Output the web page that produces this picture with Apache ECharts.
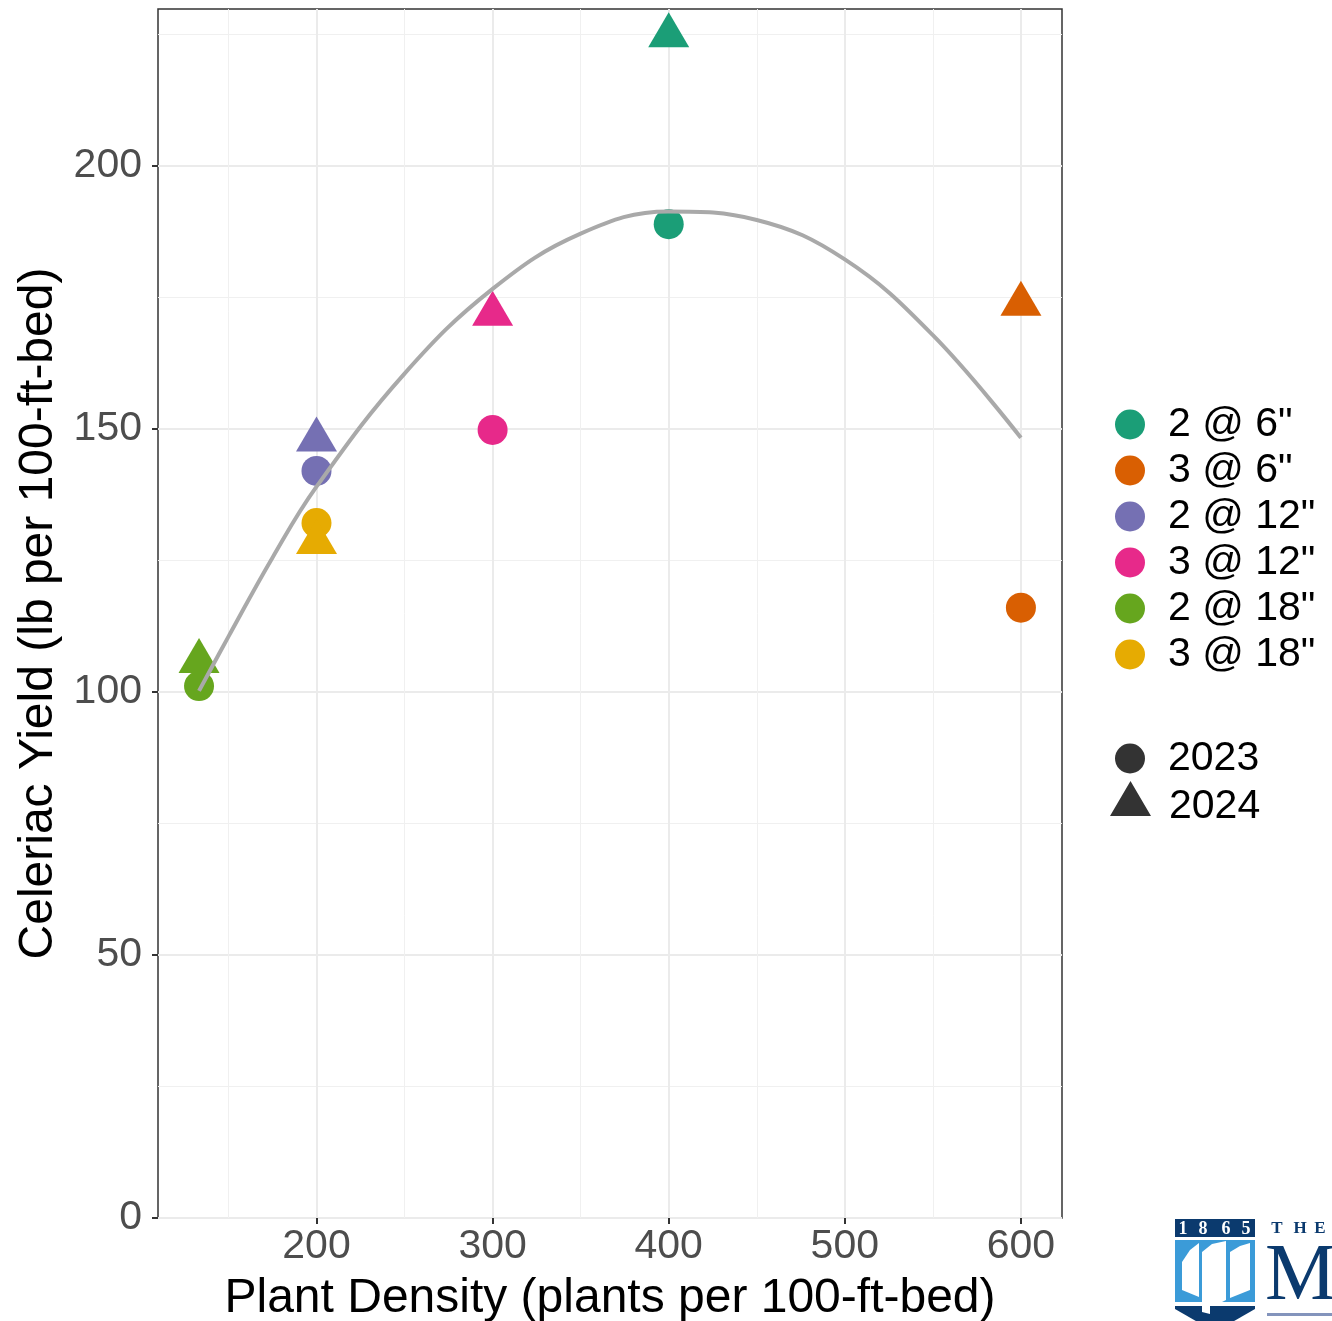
<!DOCTYPE html>
<html>
<head>
<meta charset="utf-8">
<title>Celeriac yield vs plant density</title>
<script src="https://cdn.jsdelivr.net/npm/echarts@6.0.0/dist/echarts.min.js"></script>
<style>
  html, body { margin: 0; padding: 0; background: #fff; }
  #main { width: 1332px; height: 1321px; }
</style>
</head>
<body>
<div id="main"></div>
<script>
// rows @ in-row spacing
var treatments = ['2 @ 6"', '3 @ 6"', '2 @ 12"', '3 @ 12"', '2 @ 18"', '3 @ 18"'];
var colors = ['#1B9E77', '#D95F02', '#7570B3', '#E7298A', '#66A61E', '#E6AB02'];
var density = [400, 600, 200, 300, 133.3, 200];
var yield2023 = [188.9, 116.0, 142.0, 149.8, 101.1, 132.1];
var yield2024 = [224.7, 173.7, 147.9, 171.8, 105.8, 128.4];
var years = ['2023', '2024'];

// fitted curve
var trendX = [133.3, 150, 175, 200, 250, 300, 350, 400, 450, 500, 550, 600];
var trendY = [100.2, 110.5, 125.5, 139.0, 160.5, 176.6, 187.1, 191.3, 189.7, 182.2, 167.8, 148.3];

var xTicks = [200, 300, 400, 500, 600];
var xMinor = [150, 250, 350, 450, 550];
var yTicks = [0, 50, 100, 150, 200];
var yMinor = [25, 75, 125, 175, 225];

var FONT = '"Liberation Sans", Arial, sans-serif';
var NAVY = '#0B3A6E';
// triangle 41x35 with a zero-width tail so it sits above the text centre
var TRI_ICON = 'path://M20.5,0 L41,35 L20.5,35 L20.5,51 L20.5,35 L0,35 Z';

var series = [];
for (var i = 0; i < treatments.length; i++) {
	series.push({
		name: treatments[i],
		type: 'scatter',
		xAxisIndex: 0,
		yAxisIndex: 0,
		z: 2,
		itemStyle: { color: colors[i], opacity: 1 },
		emphasis: { disabled: true },
		data: [
			{ value: [density[i], yield2023[i]], symbol: 'circle', symbolSize: 30 },
			// R's filled triangle is centred on its centroid, not its box
			{ value: [density[i], yield2024[i]], symbol: 'triangle', symbolSize: [41, 35], symbolOffset: [0, -6] }
		]
	});
}
// empty series, only for the shape legend
for (var j = 0; j < years.length; j++) {
	series.push({ name: years[j], type: 'scatter', itemStyle: { color: '#000' }, data: [] });
}
var trend = [];
for (var k = 0; k < trendX.length; k++) {
	trend.push([trendX[k], trendY[k]]);
}
series.push({
	name: 'trend',
	type: 'line',
	z: 3,
	data: trend,
	smooth: 0.4,
	showSymbol: false,
	silent: true,
	lineStyle: { color: '#A9A9A9', width: 4 }
});

var legendText = { fontSize: 41, color: '#000', fontFamily: FONT, lineHeight: 40, padding: [0, 0, 0, 18] };

var option = {
	animation: false,
	backgroundColor: '#fff',
	grid: {
		left: 158, top: 9, right: 270, bottom: 103,
		outerBoundsMode: 'none',
		show: true, borderColor: '#333', borderWidth: 1.5
	},
	xAxis: [{
		type: 'value', min: 110, max: 623.33,
		name: 'Plant Density (plants per 100-ft-bed)',
		nameLocation: 'middle', nameGap: 57,
		nameTextStyle: { fontSize: 48, color: '#000', fontFamily: FONT },
		axisLine: { show: false },
		axisTick: { show: true, length: 6, customValues: xTicks, lineStyle: { color: '#333', width: 2 } },
		axisLabel: { customValues: xTicks, fontSize: 41, color: '#4D4D4D', margin: 8, fontFamily: FONT },
		splitLine: { show: true, lineStyle: { color: '#EBEBEB', width: 2 } }
	}, {
		type: 'value', min: 110, max: 623.33,
		axisLine: { show: false },
		axisTick: { show: false, customValues: xMinor },
		axisLabel: { show: false },
		splitLine: { show: true, lineStyle: { color: '#F0F0F0', width: 1 } }
	}],
	yAxis: [{
		type: 'value', min: 0, max: 229.8,
		name: 'Celeriac Yield (lb per 100-ft-bed)',
		nameLocation: 'middle', nameGap: 83,
		nameTextStyle: { fontSize: 48, color: '#000', fontFamily: FONT },
		axisLine: { show: false },
		axisTick: { show: true, length: 6, customValues: yTicks, lineStyle: { color: '#333', width: 2 } },
		axisLabel: { customValues: yTicks, fontSize: 41, color: '#4D4D4D', margin: 16, fontFamily: FONT },
		splitLine: { show: true, lineStyle: { color: '#EBEBEB', width: 2 } }
	}, {
		type: 'value', min: 0, max: 229.8, position: 'left',
		axisLine: { show: false },
		axisTick: { show: false, customValues: yMinor },
		axisLabel: { show: false },
		splitLine: { show: true, lineStyle: { color: '#F0F0F0', width: 1 } }
	}],
	legend: [{
		data: treatments,
		orient: 'vertical', left: 1115, top: 404, padding: 0,
		itemWidth: 30, itemHeight: 30, itemGap: 5,
		icon: 'circle', selectedMode: false,
		textStyle: legendText
	}, {
		data: ['2023'],
		orient: 'vertical', left: 1115, top: 738, padding: 0,
		itemWidth: 30, itemHeight: 30,
		icon: 'circle', selectedMode: false,
		textStyle: legendText
	}, {
		data: ['2024'],
		orient: 'vertical', left: 1110, top: 781, padding: 0,
		itemWidth: 41, itemHeight: 51,
		icon: TRI_ICON, symbolKeepAspect: false, selectedMode: false,
		textStyle: { fontSize: 41, color: '#000', fontFamily: FONT, lineHeight: 40, padding: [0, 0, 0, 13] }
	}],
	// university logo, cut off at the corner
	graphic: [
		{ type: 'rect', shape: { x: 1175, y: 1219, width: 80, height: 18 }, style: { fill: NAVY } },
		{ type: 'text', x: 1183, y: 1229, style: { text: '1', fill: '#fff', font: 'bold 18px "Liberation Serif"', align: 'center', verticalAlign: 'middle' } },
		{ type: 'text', x: 1203, y: 1229, style: { text: '8', fill: '#fff', font: 'bold 18px "Liberation Serif"', align: 'center', verticalAlign: 'middle' } },
		{ type: 'text', x: 1226, y: 1229, style: { text: '6', fill: '#fff', font: 'bold 18px "Liberation Serif"', align: 'center', verticalAlign: 'middle' } },
		{ type: 'text', x: 1246, y: 1229, style: { text: '5', fill: '#fff', font: 'bold 18px "Liberation Serif"', align: 'center', verticalAlign: 'middle' } },
		{ type: 'rect', shape: { x: 1175, y: 1240, width: 80, height: 62 }, style: { fill: '#3B9BD8' } },
		{ type: 'polygon', shape: { points: [[1182, 1262], [1190, 1250], [1199, 1243], [1199, 1297], [1182, 1290]] }, style: { fill: '#fff' } },
		{ type: 'polygon', shape: { points: [[1202, 1252], [1212, 1244], [1226, 1241], [1226, 1300], [1202, 1312]] }, style: { fill: '#fff' } },
		{ type: 'polygon', shape: { points: [[1230, 1252], [1240, 1246], [1250, 1243], [1250, 1290], [1230, 1298]] }, style: { fill: '#fff' } },
		{ type: 'polygon', shape: { points: [[1175, 1306], [1255, 1306], [1255, 1309], [1215, 1332], [1175, 1309]] }, style: { fill: NAVY } },
		{ type: 'polygon', shape: { points: [[1202, 1306], [1210, 1306], [1210, 1314], [1202, 1312]] }, style: { fill: '#fff' } },
		{ type: 'text', x: 1277, y: 1229, style: { text: 'T', fill: NAVY, font: 'bold 17px "Liberation Serif"', align: 'center', verticalAlign: 'middle' } },
		{ type: 'text', x: 1300, y: 1229, style: { text: 'H', fill: NAVY, font: 'bold 17px "Liberation Serif"', align: 'center', verticalAlign: 'middle' } },
		{ type: 'text', x: 1320, y: 1229, style: { text: 'E', fill: NAVY, font: 'bold 17px "Liberation Serif"', align: 'center', verticalAlign: 'middle' } },
		{ type: 'text', x: 1265, y: 1318, style: { text: 'M', fill: NAVY, font: '80px "Liberation Serif"', verticalAlign: 'bottom' } },
		{ type: 'rect', shape: { x: 1267, y: 1313, width: 65, height: 3 }, style: { fill: '#8394BC' } }
	],
	series: series
};

var myChart = echarts.init(document.getElementById('main'));
myChart.setOption(option);
</script>
</body>
</html>
